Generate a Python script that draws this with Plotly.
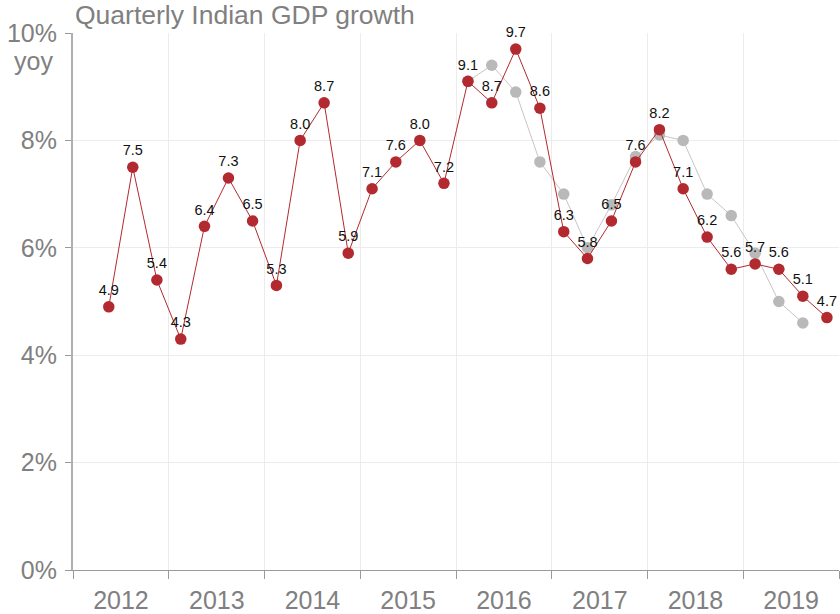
import pandas as pd
import plotly.graph_objects as go

# Quarterly real GDP growth, % year on year
quarters = [
    "2012Q2", "2012Q3", "2012Q4",
    "2013Q1", "2013Q2", "2013Q3", "2013Q4",
    "2014Q1", "2014Q2", "2014Q3", "2014Q4",
    "2015Q1", "2015Q2", "2015Q3", "2015Q4",
    "2016Q1", "2016Q2", "2016Q3", "2016Q4",
    "2017Q1", "2017Q2", "2017Q3", "2017Q4",
    "2018Q1", "2018Q2", "2018Q3", "2018Q4",
    "2019Q1", "2019Q2", "2019Q3", "2019Q4",
]
growth_latest = [
    4.9, 7.5, 5.4,
    4.3, 6.4, 7.3, 6.5,
    5.3, 8.0, 8.7, 5.9,
    7.1, 7.6, 8.0, 7.2,
    9.1, 8.7, 9.7, 8.6,
    6.3, 5.8, 6.5, 7.6,
    8.2, 7.1, 6.2, 5.6,
    5.7, 5.6, 5.1, 4.7,
]

# Earlier estimates for the same quarters (2016Q1 to 2019Q3)
quarters_prev = [
    "2016Q1", "2016Q2", "2016Q3", "2016Q4",
    "2017Q1", "2017Q2", "2017Q3", "2017Q4",
    "2018Q1", "2018Q2", "2018Q3", "2018Q4",
    "2019Q1", "2019Q2", "2019Q3",
]
growth_prev = [
    9.1, 9.4, 8.9, 7.6,
    7.0, 6.0, 6.8, 7.7,
    8.1, 8.0, 7.0, 6.6,
    5.9, 5.0, 4.6,
]

y_ticks = [0, 2, 4, 6, 8, 10]
y_ticktext = ["0%", "2%", "4%", "6%", "8%", "10%"]


def mid_quarter(q_labels):
    """Middle date of each quarter."""
    out = []
    for q in q_labels:
        p = pd.Period(q, freq="Q")
        out.append(p.start_time + (p.end_time - p.start_time) / 2)
    return out


RED = "#b22a2f"
GREY = "#b9b9b9"
AXIS_GREY = "#808080"
FONT = "Liberation Sans, Arial, sans-serif"

fig = go.Figure()

fig.add_trace(go.Scatter(
    x=mid_quarter(quarters_prev), y=growth_prev,
    mode="lines+markers",
    line=dict(color="#c6c6c6", width=1),
    marker=dict(color=GREY, size=11.5),
    hoverinfo="x+y", showlegend=False, cliponaxis=False,
))

fig.add_trace(go.Scatter(
    x=mid_quarter(quarters), y=growth_latest,
    mode="lines+markers+text",
    text=[f"{v:.1f}" for v in growth_latest],
    textposition="top center",
    textfont=dict(family=FONT, size=14.5, color="#111111"),
    line=dict(color=RED, width=1),
    marker=dict(color=RED, size=11.5),
    hoverinfo="x+y", showlegend=False, cliponaxis=False,
))

fig.update_layout(
    width=840, height=614,
    margin=dict(l=73, r=1, t=33, b=44),
    paper_bgcolor="white", plot_bgcolor="white",
    font=dict(family=FONT, color=AXIS_GREY),
    showlegend=False,
)

fig.update_xaxes(
    type="date",
    range=["2012-01-01", "2020-01-01"],
    tick0="2012-01-01", dtick="M12",
    tickformat="%Y", ticklabelmode="period",
    ticks="outside", ticklen=8, tickcolor="#9a9a9a", tickwidth=1,
    showgrid=True, gridcolor="#ececec", gridwidth=1,
    showline=True, linecolor="#9a9a9a", linewidth=1,
    tickfont=dict(family=FONT, size=25, color=AXIS_GREY),
    zeroline=False,
)

fig.update_yaxes(
    range=[0, 10],
    tickvals=y_ticks, ticktext=y_ticktext,
    ticks="outside", ticklen=6, tickcolor="#9a9a9a", tickwidth=1,
    ticklabelstandoff=3,
    showgrid=True, gridcolor="#ececec", gridwidth=1,
    showline=True, linecolor="#b0b0b0", linewidth=2,
    tickfont=dict(family=FONT, size=25, color=AXIS_GREY),
    zeroline=False,
)

# Unit under the top tick label
fig.add_annotation(
    text="yoy", xref="paper", yref="y", x=0, y=10,
    xanchor="right", yanchor="top", xshift=-18, yshift=-12,
    showarrow=False, font=dict(family=FONT, size=25, color=AXIS_GREY),
)

# Chart title
fig.add_annotation(
    text="Quarterly Indian GDP growth", xref="paper", yref="paper",
    x=0, y=1, xanchor="left", yanchor="bottom", yshift=1,
    showarrow=False, font=dict(family=FONT, size=26.5, color=AXIS_GREY),
)

fig.write_html("out.html")
